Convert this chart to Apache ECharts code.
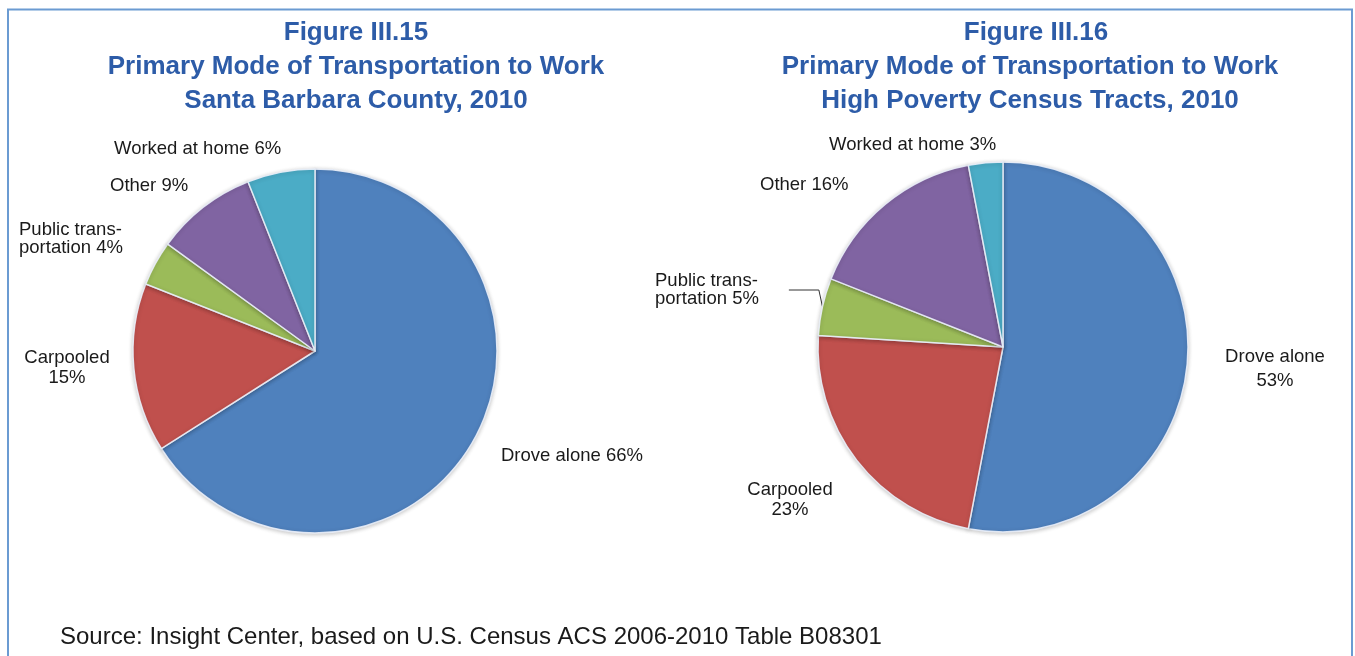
<!DOCTYPE html>
<html>
<head>
<meta charset="utf-8">
<script src="https://cdn.jsdelivr.net/npm/echarts@6/dist/echarts.min.js"></script>
<style>
  html, body { margin: 0; padding: 0; background: #ffffff; }
  #chart { width: 1355px; height: 656px; }
</style>
</head>
<body>
<div id="chart"></div>
<script>
// Commute mode shares (percent of workers), ACS 2006-2010
const categories = ['Drove alone', 'Carpooled', 'Public transportation', 'Other', 'Worked at home'];
const labelNames = ['Drove alone', 'Carpooled', 'Public trans-\nportation', 'Other', 'Worked at home'];
const countyShares = [66, 15, 4, 9, 6];
const tractShares = [53, 23, 5, 16, 3];

const countyTitle = ['Figure III.15', 'Primary Mode of Transportation to Work', 'Santa Barbara County, 2010'];
const tractTitle = ['Figure III.16', 'Primary Mode of Transportation to Work', 'High Poverty Census Tracts, 2010'];
const sourceNote = 'Source: Insight Center, based on U.S. Census ACS 2006-2010 Table B08301';

// Styling
const sliceColors = ['#4f81bd', '#c0504d', '#9bbb59', '#8064a2', '#4bacc6'];
const titleBlue = '#2d5ca8';
const labelFont = 'Liberation Sans, Arial, Helvetica, sans-serif';

// Label text separators between name and value (line break or space)
const countySep = [' ', '\n', ' ', ' ', ' '];
const tractSep = ['\n', '\n', ' ', ' ', ' '];

// Label anchor placement per slice: [x, y, align, lineHeight]
const countyLabelPos = [
  [501, 456, 'left', 20],
  [67, 368, 'center', 20],
  [19, 239, 'left', 18],
  [110, 186, 'left', 20],
  [114, 149, 'left', 20]
];
const tractLabelPos = [
  [1275, 369, 'center', 24],
  [790, 500, 'center', 20],
  [655, 290, 'left', 18],
  [760, 185, 'left', 20],
  [829, 145, 'left', 20]
];

function buildData(values, seps, positions) {
  return categories.map((name, i) => ({
    name: name,
    value: values[i],
    itemStyle: { color: sliceColors[i] },
    label: {
      formatter: labelNames[i] + seps[i] + values[i] + '%',
      align: positions[i][2],
      lineHeight: positions[i][3]
    }
  }));
}

function pieSeries(values, seps, positions, center, radius, leaderIndex) {
  const data = buildData(values, seps, positions);
  if (leaderIndex != null) {
    // short leader: keep a gap between the text and the start of the line
    data[leaderIndex].labelLine = { show: true, lineStyle: { color: '#333', width: 1 } };
    data[leaderIndex].label.padding = [0, 30, 0, 0];
  }
  return {
    type: 'pie',
    center: center,
    radius: radius,
    startAngle: 90,
    clockwise: true,
    avoidLabelOverlap: false,
    silent: true,
    animation: false,
    itemStyle: {
      borderColor: 'rgba(235,240,250,0.9)',
      borderWidth: 1.5,
      shadowBlur: 4,
      shadowColor: 'rgba(0,0,0,0.22)',
      shadowOffsetY: 1
    },
    label: {
      show: true,
      position: 'outside',
      color: '#1a1a1a',
      fontFamily: labelFont,
      fontSize: 18.5
    },
    labelLine: { show: false },
    labelLayout: function (p) {
      const pos = positions[p.dataIndex];
      return { x: pos[0], y: pos[1], align: pos[2], verticalAlign: 'middle' };
    },
    data: data
  };
}

function titleLines(lines, cx0, cx) {
  return lines.map((t, i) => ({
    type: 'text',
    style: {
      text: t,
      x: i === 0 ? cx0 : cx,
      y: 33 + i * 34,
      align: 'center',
      verticalAlign: 'middle',
      fill: titleBlue,
      font: 'bold 26px ' + labelFont
    }
  }));
}

const chart = echarts.init(document.getElementById('chart'), null, { renderer: 'canvas' });

chart.setOption({
  backgroundColor: '#ffffff',
  animation: false,
  series: [
    pieSeries(countyShares, countySep, countyLabelPos, [315, 351], 182, null),
    pieSeries(tractShares, tractSep, tractLabelPos, [1003, 347], 185, 2)
  ],
  graphic: [
    {
      type: 'rect',
      shape: { x: 8, y: 9.5, width: 1344, height: 720 },
      style: { fill: 'none', stroke: '#6b9bd2', lineWidth: 2 },
      z: -1
    },
    ...titleLines(countyTitle, 356, 356),
    ...titleLines(tractTitle, 1036, 1030),
    {
      type: 'text',
      style: {
        text: sourceNote,
        x: 60,
        y: 637,
        verticalAlign: 'middle',
        fill: '#1a1a1a',
        font: '24px ' + labelFont
      }
    }
  ]
});
</script>
</body>
</html>
